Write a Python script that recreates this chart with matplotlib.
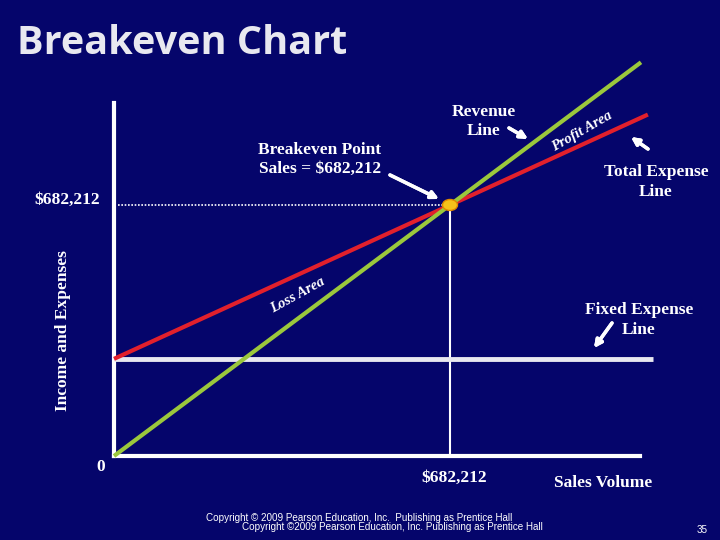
import matplotlib
matplotlib.use("Agg")
import matplotlib.pyplot as plt
from matplotlib.patches import Ellipse

# ---------------- data ----------------
breakeven_sales = 682212
breakeven_label = "$682,212"

revenue_x = [0, 1070000]
revenue_y = [0, 1070000]

expense_x = [0, 1084000]
expense_y = [264000, 928000]

fixed_x = [0, 1094000]
fixed_y = [264000, 264000]

x_max = 1068000
y_max = 959400

# ---------------- style ----------------
BG = "#05056B"
GREEN = "#9BC83C"
RED = "#E2202C"
LIGHT = "#E8E8F0"
SERIF = ["Liberation Serif", "DejaVu Serif"]

W, H = 720, 540


def fpx(x, y):
    # pixel position (top-left origin) -> figure fraction
    return x / W, 1 - y / H


fig = plt.figure(figsize=(7.2, 5.4), dpi=100, facecolor=BG)
ax = fig.add_axes([114 / W, (H - 456) / H, 526 / W, 353 / H])
ax.set_facecolor(BG)
ax.set_xlim(0, x_max)
ax.set_ylim(0, y_max)
ax.set_xticks([])
ax.set_yticks([])
for s in ["top", "right"]:
    ax.spines[s].set_visible(False)
for s in ["left", "bottom"]:
    ax.spines[s].set_color("white")
    ax.spines[s].set_linewidth(3)

# guide lines to the breakeven point
ax.plot([8000, breakeven_sales - 10000], [breakeven_sales, breakeven_sales],
        color="white", lw=1.2, ls=(0, (1, 1)), zorder=2)
ax.plot([breakeven_sales, breakeven_sales], [0, breakeven_sales],
        color="white", lw=1.5, zorder=2)

# fixed, expense and revenue lines
ax.plot(fixed_x, fixed_y, color=LIGHT, lw=3.5, clip_on=False, zorder=3,
        solid_capstyle="butt")
ax.plot(expense_x, expense_y, color=RED, lw=3, clip_on=False, zorder=4,
        solid_capstyle="butt")
ax.plot(revenue_x, revenue_y, color=GREEN, lw=3, clip_on=False, zorder=4,
        solid_capstyle="butt")

ax.add_patch(Ellipse((breakeven_sales, breakeven_sales), 15 * 2030, 11 * 2718,
                     fc="#F6C21A", ec="#E08A00", lw=1, zorder=6, clip_on=False))

# ---------------- texts ----------------
fig.text(*fpx(17, 43), "Breakeven Chart", family=["Open Sans", "DejaVu Sans"],
         weight="bold", fontsize=28.5, color=LIGHT, va="center", ha="left")

lab = dict(family=SERIF, weight="bold", color="white", fontsize=12.5,
           ha="center", va="center", linespacing=1.25)
fig.text(*fpx(320, 159), "Breakeven Point\nSales = " + breakeven_label, **lab)
fig.text(*fpx(484, 122), "Revenue\nLine", **lab)
fig.text(*fpx(656, 182), "Total Expense\nLine", **lab)
fig.text(*fpx(639, 320), "Fixed Expense\nLine", **lab)
fig.text(*fpx(67, 200), breakeven_label, **lab)
fig.text(*fpx(454, 478), breakeven_label, **lab)
fig.text(*fpx(101, 467), "0", **lab)
fig.text(*fpx(603, 483), "Sales Volume", **lab)
fig.text(*fpx(63, 331), "Income and Expenses", rotation=90, **lab)

area = dict(family=SERIF, weight="bold", style="italic", color="white",
            fontsize=10.5, ha="center", va="center", rotation_mode="anchor")
fig.text(*fpx(582, 131), "Profit Area", rotation=30, **area)
fig.text(*fpx(298, 295), "Loss Area", rotation=29, **area)

foot = dict(family=["Liberation Sans", "DejaVu Sans"], color="white",
            fontsize=7.1, ha="center", va="center")
fig.text(*fpx(359, 518),
         "Copyright \u00a9 2009 Pearson Education, Inc.  Publishing as Prentice Hall", **foot)
fig.text(*fpx(392, 527),
         "Copyright \u00a92009 Pearson Education, Inc. Publishing as Prentice Hall", **foot)
fig.text(*fpx(702, 530), "35", **foot)

# ---------------- arrows ----------------
arrows = [((390, 175), (439, 199)),
          ((509, 128), (528, 139)),
          ((648, 149), (631, 137)),
          ((612, 323), (594, 348))]
for tail, head in arrows:
    fig.add_artist(plt.annotate(
        "", xy=fpx(*head), xytext=fpx(*tail), xycoords="figure fraction",
        textcoords="figure fraction",
        arrowprops=dict(arrowstyle="-|>", color="white", lw=2.5,
                        mutation_scale=11, shrinkA=0, shrinkB=0)))

fig.savefig("out.png", dpi=100, facecolor=BG)
